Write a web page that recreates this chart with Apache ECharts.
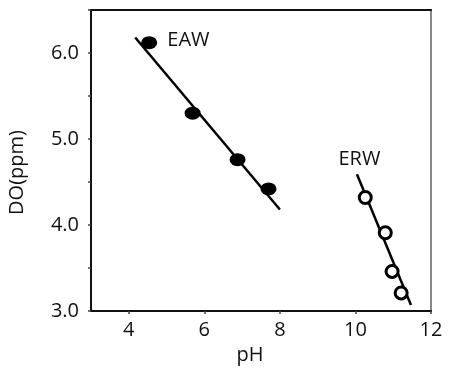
<!DOCTYPE html>
<html>
<head>
<meta charset="utf-8">
<script src="https://cdn.jsdelivr.net/npm/echarts@6/dist/echarts.min.js"></script>
<style>
  html, body { margin: 0; padding: 0; background: #fff; }
  #chart { width: 449px; height: 377px; }
</style>
</head>
<body>
<div id="chart"></div>
<script>
// measured points (pH, DO ppm)
const eawPoints = [[4.54, 6.12], [5.69, 5.30], [6.88, 4.76], [7.70, 4.42]]
const erwPoints = [[10.26, 4.32], [10.79, 3.91], [10.97, 3.46], [11.21, 3.21]]
// fitted lines, endpoints as drawn
const eawFit = [[4.17, 6.18], [8.0, 4.18]]
const erwFit = [[10.04, 4.59], [11.47, 3.07]]
const labels = [
  { name: 'EAW', coord: [5.02, 6.15] },
  { name: 'ERW', coord: [9.55, 4.76] },
]

const font = 'Open Sans'
const chart = echarts.init(document.getElementById('chart'))
chart.setOption({
  animation: false,
  grid: { left: 91, top: 10, right: 18, bottom: 66, outerBoundsMode: 'none', containLabel: false },
  xAxis: [
    {
      type: 'value', min: 3, max: 12, interval: 1,
      name: 'pH', nameLocation: 'middle', nameGap: 34,
      nameTextStyle: { fontFamily: font, fontSize: 20, color: '#111', padding: [0, 22, 0, 0] },
      axisLine: { lineStyle: { color: '#111', width: 2 } },
      axisTick: {
        length: 3, lineStyle: { color: '#444', width: 1.5 },
        customValues: [4, 6, 8, 10, 12],
      },
      axisLabel: {
        fontFamily: font, fontSize: 20, color: '#111', margin: 9,
        customValues: [4, 6, 8, 10, 12],
      },
      splitLine: { show: false },
    },
    {
      type: 'value', min: 3, max: 12, position: 'top',
      axisLine: { show: true, lineStyle: { color: '#111', width: 2 } },
      axisTick: { show: false }, axisLabel: { show: false }, splitLine: { show: false },
    },
  ],
  yAxis: [
    {
      type: 'value', min: 3, max: 6.5, interval: 0.5,
      name: 'DO(ppm)', nameLocation: 'middle', nameGap: 64,
      nameTextStyle: { fontFamily: font, fontSize: 20, color: '#111', padding: [0, 24, 0, 0] },
      axisLine: { show: true, lineStyle: { color: '#111', width: 2 } },
      axisTick: { length: 3, lineStyle: { color: '#444', width: 1.5 } },
      axisLabel: {
        fontFamily: font, fontSize: 20, color: '#111', margin: 12,
        formatter: v => (Math.abs(v - Math.round(v)) < 1e-6 && v < 6.5 ? v.toFixed(1) : ''),
      },
      splitLine: { show: false },
    },
    {
      type: 'value', min: 3, max: 6.5, position: 'right',
      axisLine: { show: true, lineStyle: { color: '#888', width: 2 } },
      axisTick: { show: false }, axisLabel: { show: false }, splitLine: { show: false },
    },
  ],
  series: [
    {
      type: 'line', data: eawFit, symbol: 'none',
      lineStyle: { color: '#000', width: 2.5 }, z: 2,
    },
    {
      type: 'line', data: erwFit, symbol: 'none',
      lineStyle: { color: '#000', width: 2.5 }, z: 2,
    },
    {
      type: 'scatter', data: eawPoints, symbol: 'circle', symbolSize: [16, 13],
      itemStyle: { color: '#000', opacity: 1 }, z: 3,
    },
    {
      type: 'scatter', data: erwPoints, symbol: 'circle', symbolSize: 12,
      itemStyle: { color: '#fff', borderColor: '#000', borderWidth: 3, opacity: 1 }, z: 3,
    },
    {
      type: 'scatter', data: labels.map(l => ({ name: l.name, value: l.coord })),
      symbolSize: 0, silent: true, itemStyle: { opacity: 1 },
      label: {
        show: true, position: 'right', distance: 0, formatter: '{b}',
        fontFamily: font, fontSize: 20, color: '#111',
      },
    },
  ],
})
</script>
</body>
</html>
